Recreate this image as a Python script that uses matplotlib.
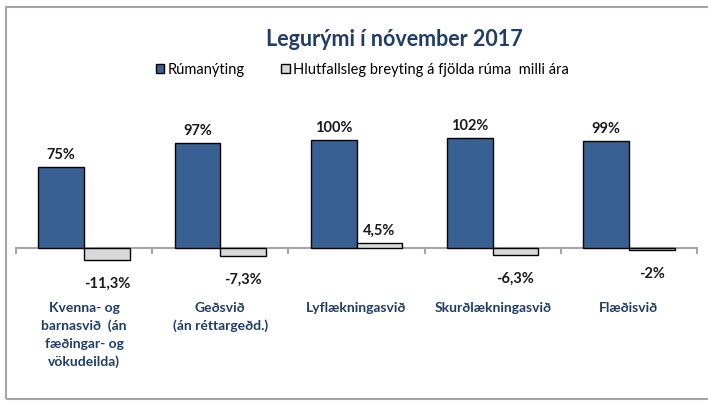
import numpy as np
import matplotlib.pyplot as plt
from matplotlib.patches import Rectangle, Patch

plt.rcParams['font.family'] = ['Lato', 'DejaVu Sans']

# Gögn
svid = ['Kvenna- og\nbarnasvið  (án\nfæðingar- og\nvökudeilda)',
        'Geðsvið\n(án réttargeðd.)',
        'Lyflækningasvið',
        'Skurðlækningasvið',
        'Flæðisvið']
rumanyting = [75, 97, 100, 102, 99]
breyting = [-11.3, -7.3, 4.5, -6.3, -2.0]
breyting_txt = ['-11,3%', '-7,3%', '4,5%', '-6,3%', '-2%']

blar = '#386092'
grar = '#d9d9d9'
dokkblar = '#1f3d66'

fig = plt.figure(figsize=(7.08, 4.01), dpi=100)

# ramminn utan um
fig.patches.append(Rectangle((6 / 708, 1 - 399 / 401), 1.0, (399 - 7) / 401,
                             transform=fig.transFigure, fill=False,
                             edgecolor='#a6a6a6', lw=1.5))

# ás: 0 á pixli 248, 1.08 px á hvert %
ax = fig.add_axes([16 / 708, (401 - 270) / 401, (697 - 16) / 708, 150 / 401])
ax.set_ylim(-22 / 1.08, 128 / 1.08)
ax.set_xlim(-0.5, 4.5)

x = np.arange(len(svid))
w = 0.335
ax.bar(x - w / 2, rumanyting, w, color=blar, edgecolor='black', lw=1)
ax.bar(x + w / 2, breyting, w, color=grar, edgecolor='black', lw=1)

for i in range(len(svid)):
    ax.annotate(f'{rumanyting[i]}%', (x[i] - w / 2, rumanyting[i]),
                xytext=(0, 3.5), textcoords='offset points', ha='center',
                va='bottom', fontsize=10.5, fontweight='bold', color='#1a1a1a')
    if breyting[i] >= 0:
        ax.annotate(breyting_txt[i], (x[i] + w / 2, breyting[i]),
                    xytext=(0, 3.5), textcoords='offset points', ha='center',
                    va='bottom', fontsize=10.5, fontweight='bold', color='#1a1a1a')
    else:
        ax.annotate(breyting_txt[i], (x[i] + w / 2, breyting[i]),
                    xytext=(0, -12), textcoords='offset points', ha='center',
                    va='top', fontsize=10.5, fontweight='bold', color='#1a1a1a')
    ax.text(x[i], -50, svid[i], ha='center', va='top', fontsize=10,
            fontweight='bold', color=dokkblar, linespacing=1.55)

# x-ás
ax.axhline(0, color='#a6a6a6', lw=1.5, zorder=0)
for b in np.arange(-0.5, 5, 1):
    ax.plot([b, b], [0, -5 / 1.08], color='#a6a6a6', lw=1.5, clip_on=False)

for s in ax.spines.values():
    s.set_visible(False)
ax.set_xticks([])
ax.set_yticks([])
ax.patch.set_alpha(0)

fig.text(394 / 708, 1 - 40 / 401, 'Legurými í nóvember 2017', ha='center',
         va='center', fontsize=15.5, fontweight='bold', color=dokkblar)

handles = [Patch(facecolor=blar, edgecolor='black', label='Rúmanýting'),
           Patch(facecolor=grar, edgecolor='black',
                 label='Hlutfallsleg breyting á fjölda rúma  milli ára')]
fig.legend(handles=handles, loc='center', bbox_to_anchor=(362 / 708, 1 - 70 / 401),
           ncol=2, frameon=False, fontsize=10.5, handlelength=0.6, handleheight=0.6,
           handletextpad=0.2, columnspacing=2.5)

fig.savefig('out.png', dpi=100)
